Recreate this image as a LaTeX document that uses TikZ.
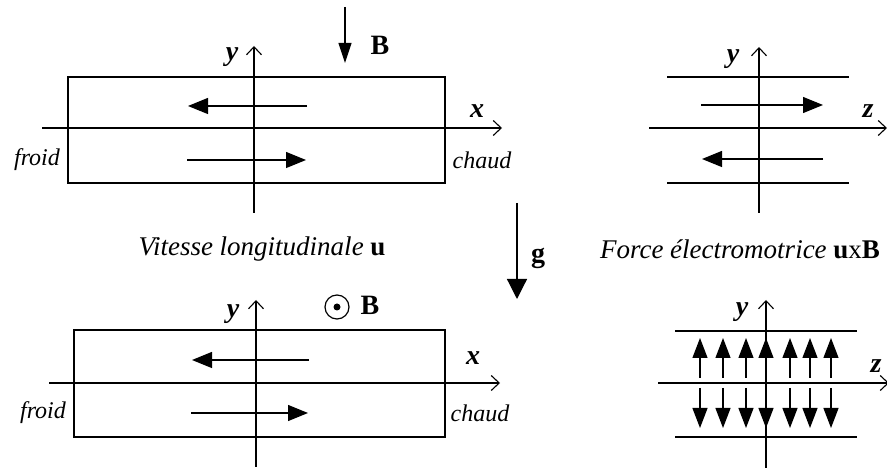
\documentclass[tikz,border=0pt]{standalone}
\usepackage{fontspec}
\setmainfont{Liberation Serif}
\usetikzlibrary{arrows.meta}
\tikzset{
  ln/.style={line width=1.2pt},
  axisline/.style={line width=1.2pt,-{Straight Barb[length=8pt,width=15pt,line width=1.1pt]}},
  flow/.style={line width=1.2pt,-{Triangle[length=20pt,width=16pt]}},
  vsmall/.style={line width=1.2pt,-{Triangle[length=20pt,width=15pt]}},
  lbl/.style={inner sep=0pt,font=\fontsize{28}{30}\selectfont\bfseries\itshape},
  vec/.style={inner sep=0pt,font=\fontsize{28}{30}\selectfont\bfseries},
  side/.style={inner sep=0pt,font=\fontsize{24}{26}\selectfont\itshape},
  captxt/.style={inner sep=0pt,font=\fontsize{27}{30}\selectfont\itshape},
}
\begin{document}
\begin{tikzpicture}[x=1pt,y=-1pt]
\useasboundingbox (0,0) rectangle (887,470);
% ---------- top left ----------
\draw[ln] (68,77) rectangle (445,183);
\coordinate (xa1) at (42,128); \coordinate (xb1) at (502,128);
\coordinate (ya1) at (254,213); \coordinate (yb1) at (254,46);
\draw[axisline] (xa1) -- (xb1);
\draw[axisline] (ya1) -- (yb1);
\coordinate (f1a) at (307,106); \coordinate (f1b) at (188,106);
\coordinate (f2a) at (187,160); \coordinate (f2b) at (306,160);
\draw[flow] (f1a) -- (f1b);
\draw[flow] (f2a) -- (f2b);
\coordinate (Ba) at (345,7); \coordinate (Bb) at (345,63);
\draw[line width=1.2pt,-{Triangle[length=20pt,width=13pt]}] (Ba) -- (Bb);
\node[vec] (B1) at (380,45) {B};
\node[lbl] (y1) at (232,57) {y};
\node[lbl] (x1) at (477,111) {x};
\node[side] (fr1) at (37,160) {froid};
\node[side] (ch1) at (482,160) {chaud};
% ---------- g ----------
\coordinate (ga) at (517,203); \coordinate (gb) at (517,299);
\draw[line width=1.2pt,-{Triangle[length=20pt,width=20pt]}] (ga) -- (gb);
\node[vec] (g) at (538,258) {g};
% ---------- captions ----------
\node[captxt] (c1) at (262,249) {Vitesse longitudinale \textbf{\upshape u}};
\node[captxt] (c2) at (740,249) {Force électromotrice \textbf{\upshape u}{\upshape x}\textbf{\upshape B}};
% ---------- top right ----------
\draw[ln] (667,77) -- (849,77);
\draw[ln] (667,183) -- (849,183);
\coordinate (za2) at (649,128); \coordinate (zb2) at (887,128);
\coordinate (ya2) at (759,213); \coordinate (yb2) at (759,47);
\draw[axisline] (za2) -- (zb2);
\draw[axisline] (ya2) -- (yb2);
\coordinate (h1a) at (701,105); \coordinate (h1b) at (823,105);
\coordinate (h2a) at (823,159); \coordinate (h2b) at (702,159);
\draw[flow] (h1a) -- (h1b);
\draw[flow] (h2a) -- (h2b);
\node[lbl] (y2) at (733,59) {y};
\node[lbl] (z2) at (868,111) {z};
% ---------- bottom left ----------
\draw[ln] (74,330) rectangle (445,437);
\coordinate (xa3) at (49,383); \coordinate (xb3) at (500,383);
\coordinate (ya3) at (256,467); \coordinate (yb3) at (256,300);
\draw[axisline] (xa3) -- (xb3);
\draw[axisline] (ya3) -- (yb3);
\coordinate (k1a) at (309,360); \coordinate (k1b) at (192,360);
\coordinate (k2a) at (191,413); \coordinate (k2b) at (308,413);
\draw[flow] (k1a) -- (k1b);
\draw[flow] (k2a) -- (k2b);
\node[draw,circle,line width=1.2pt,minimum size=24pt,inner sep=0pt] (dot) at (337,307) {};
\fill (dot.center) circle (3.5pt);
\node[vec] (B3) at (370,305) {B};
\node[lbl] (y3) at (233,314) {y};
\node[lbl] (x3) at (473,358) {x};
\node[side] (fr3) at (43,413) {froid};
\node[side] (ch3) at (480,413) {chaud};
% ---------- bottom right ----------
\draw[ln] (675,331) -- (857,331);
\draw[ln] (675,437) -- (857,437);
\coordinate (za4) at (658,383); \coordinate (zb4) at (889,383);
\coordinate (ya4) at (766,468); \coordinate (yb4) at (766,300);
\draw[axisline] (za4) -- (zb4);
\draw[axisline] (ya4) -- (yb4);
\foreach \xx [count=\i] in {700,723,746,766,790,810,831} {
  \coordinate (u\i a) at (\xx,378); \coordinate (u\i b) at (\xx,338);
  \coordinate (d\i a) at (\xx,388); \coordinate (d\i b) at (\xx,428);
  \draw[vsmall] (u\i a) -- (u\i b);
  \draw[vsmall] (d\i a) -- (d\i b);
}
\node[lbl] (y4) at (742,312) {y};
\node[lbl] (z4) at (876,366) {z};
\end{tikzpicture}
\end{document}
